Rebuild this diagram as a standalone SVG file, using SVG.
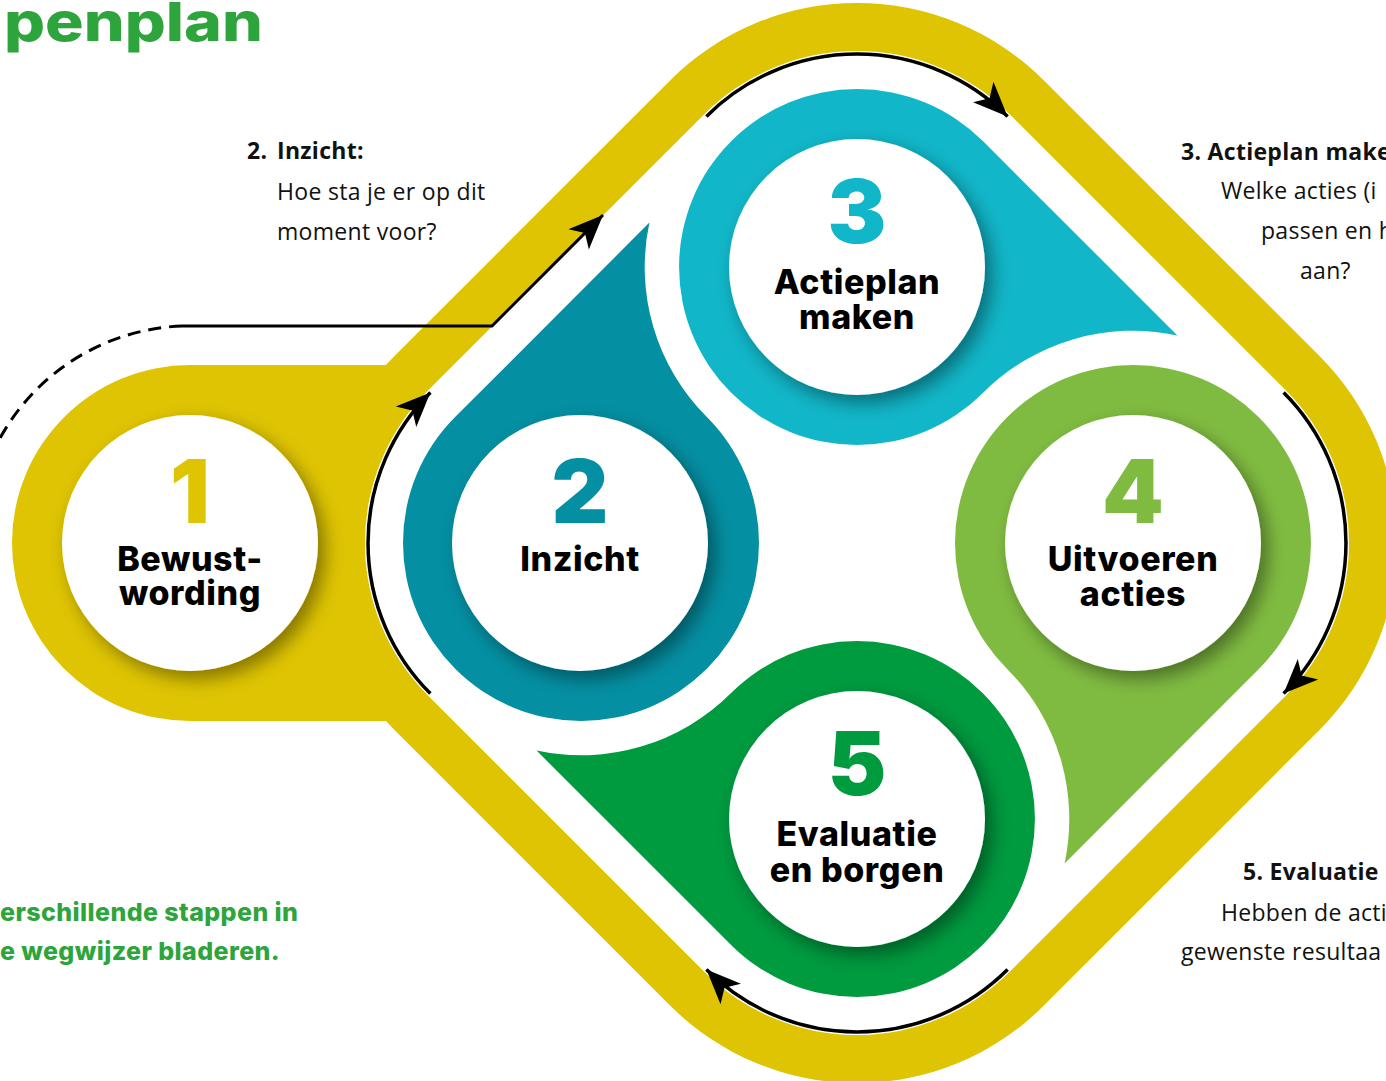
<svg xmlns="http://www.w3.org/2000/svg" width="1386" height="1081" viewBox="0 0 1386 1081">
<style>
.yellow{fill:#dec402}
.white{fill:#ffffff}
.num{font-family:Inter,"Liberation Sans",sans-serif;font-weight:900;font-size:88px;text-anchor:middle}
.lbl{font-family:Inter,"Liberation Sans",sans-serif;font-weight:800;font-size:34px;letter-spacing:0.6px;text-anchor:middle;fill:#000}
.body{font-family:"Open Sans","Liberation Sans",sans-serif;font-size:23px;letter-spacing:0.3px;fill:#111}
.bold{font-weight:700}
.green{font-family:Inter,"Liberation Sans",sans-serif;font-weight:800;fill:#2ea53c}
.arc{fill:none;stroke:#000;stroke-width:3.5}
</style>
<defs>
<marker id="ah" markerUnits="userSpaceOnUse" markerWidth="40" markerHeight="40" refX="0" refY="0" viewBox="-34 -16 36 32" orient="auto">
<path d="M0,0 L-31,-13 L-23,0 L-31,13 Z" fill="#000"/>
</marker>
<filter id="sh" x="-30%" y="-30%" width="170%" height="170%">
<feDropShadow dx="7" dy="8" stdDeviation="9" flood-color="#000" flood-opacity="0.4"/>
</filter>
<path id="drop" d="M125.9,-401.9 A178,178 0 1 0 125.9,-150.1 A212.3,212.3 0 0 1 320.4,-207.6 Z"/>
<path id="bigarc" d="M-150.6,-426.6 A213,213 0 0 1 150.6,-426.6"/>
</defs>

<g id="title">
<text class="green" x="4" y="41" font-size="54" textLength="259" lengthAdjust="spacingAndGlyphs">penplan</text>
</g>

<g id="frame">
<rect class="yellow" x="-459.2" y="-459.2" width="918.4" height="918.4" rx="264" transform="translate(857,543) rotate(45)"/>
<path class="yellow" d="M190,365 H420 V721 H190 A178,178 0 0 1 190,365 Z"/>
<rect class="white" x="-411.2" y="-411.2" width="822.4" height="822.4" rx="216" transform="translate(857,543) rotate(45)"/>
</g>

<g id="connectors">
<g transform="translate(857,543)">
<use href="#bigarc" class="arc" marker-end="url(#ah)"/>
<use href="#bigarc" class="arc" marker-end="url(#ah)" transform="rotate(90)"/>
<use href="#bigarc" class="arc" marker-end="url(#ah)" transform="rotate(180)"/>
<use href="#bigarc" class="arc" marker-end="url(#ah)" transform="rotate(270)"/>
</g>
<path d="M182,326 A217,217 0 0 0 -20.5,490.5" fill="none" stroke="#000" stroke-width="3" stroke-dasharray="13 8"/>
<path d="M182,326 H492 L603,215" fill="none" stroke="#000" stroke-width="3" marker-end="url(#ah)"/>
</g>

<g id="node1">
<circle cx="190" cy="543" r="128" class="white" filter="url(#sh)"/>
<text class="num" x="190" y="523" fill="#dec402">1</text>
<text class="lbl" x="190" y="571">Bewust-</text>
<text class="lbl" x="190" y="605">wording</text>
</g>

<g id="node2">
<use href="#drop" fill="#048fa2" transform="translate(857,543) rotate(270)"/>
<circle cx="580" cy="543" r="128" class="white" filter="url(#sh)"/>
<text class="num" x="580" y="523" fill="#048fa2">2</text>
<text class="lbl" x="580" y="571">Inzicht</text>
</g>

<g id="node3">
<use href="#drop" fill="#11b6c8" transform="translate(857,543)"/>
<circle cx="857" cy="267" r="128" class="white" filter="url(#sh)"/>
<text class="num" x="857" y="243" fill="#11b6c8">3</text>
<text class="lbl" x="857" y="294">Actieplan</text>
<text class="lbl" x="857" y="329">maken</text>
</g>

<g id="node4">
<use href="#drop" fill="#80bb41" transform="translate(857,543) rotate(90)"/>
<circle cx="1133" cy="543" r="128" class="white" filter="url(#sh)"/>
<text class="num" x="1133" y="523" fill="#80bb41">4</text>
<text class="lbl" x="1133" y="571">Uitvoeren</text>
<text class="lbl" x="1133" y="606">acties</text>
</g>

<g id="node5">
<use href="#drop" fill="#009a3f" transform="translate(857,543) rotate(180)"/>
<circle cx="857" cy="819" r="128" class="white" filter="url(#sh)"/>
<text class="num" x="857" y="795" fill="#009a3f">5</text>
<text class="lbl" x="857" y="846">Evaluatie</text>
<text class="lbl" x="857" y="882">en borgen</text>
</g>

<g id="note2">
<text class="body bold" x="247" y="159">2.</text>
<text class="body bold" x="277" y="159">Inzicht:</text>
<text class="body" x="277" y="200">Hoe sta je er op dit</text>
<text class="body" x="277" y="240">moment voor?</text>
</g>

<g id="note3">
<text class="body bold" x="1181" y="160">3. Actieplan make</text>
<text class="body" x="1221" y="199">Welke acties (i</text>
<text class="body" x="1261" y="239">passen en h</text>
<text class="body" x="1300" y="279">aan?</text>
</g>

<g id="note5">
<text class="body bold" x="1243" y="880">5. Evaluatie</text>
<text class="body" x="1221" y="921">Hebben de acti</text>
<text class="body" x="1181" y="960">gewenste resultaa</text>
</g>

<g id="intro">
<text class="green" x="0" y="921" font-size="25" letter-spacing="0.4">erschillende stappen in</text>
<text class="green" x="0" y="960" font-size="25" letter-spacing="0.4">e wegwijzer bladeren.</text>
</g>
</svg>
